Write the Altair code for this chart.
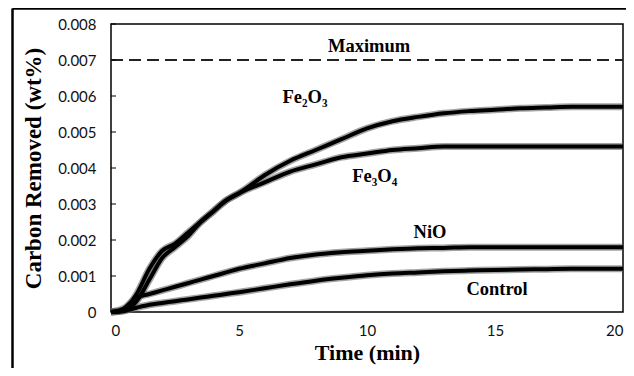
import altair as alt
import pandas as pd

# Time (min)
time = [0, 0.5, 1, 1.5, 2, 2.5, 3, 3.5, 4, 4.5, 5, 6, 7, 8, 9, 10, 11, 12, 13, 14, 15, 16, 17, 18, 19, 20]

fe2o3 = [0, 0.00005, 0.0005, 0.0012, 0.0017, 0.0019, 0.0022, 0.0025, 0.0028, 0.0031, 0.0033,
         0.0038, 0.0042, 0.0045, 0.0048, 0.0051, 0.0053, 0.00542, 0.00552, 0.00558, 0.00562,
         0.00566, 0.00568, 0.0057, 0.0057, 0.0057]
fe3o4 = [0, 0.00003, 0.0003, 0.0009, 0.0015, 0.0018, 0.0021, 0.0025, 0.0028, 0.0031, 0.0033,
         0.0036, 0.0039, 0.0041, 0.0043, 0.0044, 0.0045, 0.00455, 0.0046, 0.0046, 0.0046,
         0.0046, 0.0046, 0.0046, 0.0046, 0.0046]
nio = [0, 0.0001, 0.0004, 0.0005, 0.0006, 0.0007, 0.0008, 0.0009, 0.0010, 0.0011, 0.0012,
       0.00135, 0.0015, 0.0016, 0.00166, 0.0017, 0.00174, 0.00177, 0.00178, 0.0018, 0.0018,
       0.0018, 0.0018, 0.0018, 0.0018, 0.0018]
control = [0, 0.00003, 0.00012, 0.0002, 0.00025, 0.0003, 0.00035, 0.0004, 0.00045, 0.0005, 0.00055,
           0.00066, 0.00077, 0.00087, 0.00095, 0.00102, 0.00107, 0.0011, 0.00113, 0.00115, 0.00117,
           0.00118, 0.00119, 0.0012, 0.0012, 0.0012]

maximum = 0.007
y_ticks = [0, 0.001, 0.002, 0.003, 0.004, 0.005, 0.006, 0.007, 0.008]
x_ticks = [0, 5, 10, 15, 20]

label_text = ["Maximum", "Fe\u2082O\u2083", "Fe\u2083O\u2084", "NiO", "Control"]
label_t = [10.08, 7.58, 10.3, 12.46, 15.08]
label_v = [0.00739, 0.00597, 0.00378, 0.00222, 0.00064]

rows = []
for name, vals in [("Fe2O3", fe2o3), ("Fe3O4", fe3o4), ("NiO", nio), ("Control", control)]:
    for t, v in zip(time, vals):
        rows.append({"series": name, "t": t, "v": v})
df = pd.DataFrame(rows)
labels = pd.DataFrame({"text": label_text, "t": label_t, "v": label_v})

xscale = alt.Scale(domain=[0, 20], nice=False)
yscale = alt.Scale(domain=[0, 0.008], nice=False)

xax = alt.Axis(values=x_ticks, title="Time (min)", grid=False, domain=False,
               ticks=False, labelFont="Lato", labelFontSize=15, labelColor="#111",
               labelOverlap=False, labelPadding=11, titleFont="Liberation Serif",
               titleFontSize=22, titleFontWeight="bold", titleColor="#000", titlePadding=4)
yax = alt.Axis(values=y_ticks, title="Carbon Removed (wt%)", grid=False, domain=False,
               ticks=False, labelFont="Lato", labelFontSize=15, labelColor="#111",
               labelPadding=15, labelOverlap=False,
               labelExpr="datum.value == 0 ? '0' : format(datum.value, '.3f')",
               titleFont="Liberation Serif", titleFontSize=23, titleFontWeight="bold",
               titleColor="#000", titlePadding=12)


def X(field="t"):
    return alt.X(f"{field}:Q", scale=xscale, axis=xax)


def Y(field="v"):
    return alt.Y(f"{field}:Q", scale=yscale, axis=yax)


base = alt.Chart(df)

lines_soft = base.mark_line(strokeWidth=7, color="#666", opacity=0.6, interpolate="monotone").encode(
    x=X(), y=Y(), detail="series:N",
)
lines = base.mark_line(strokeWidth=4, color="#000", interpolate="monotone").encode(
    x=X(), y=Y(), detail="series:N",
)

max_line = alt.Chart(pd.DataFrame({"v": [maximum]})).mark_rule(
    strokeDash=[12, 6], strokeWidth=2, color="#222"
).encode(y=Y(), x=alt.value(0), x2=alt.value(512))

ytick_df = pd.DataFrame({"v": y_ticks})
yticks = alt.Chart(ytick_df).mark_rule(color="#000", strokeWidth=1).encode(
    y=Y(), x=alt.value(0), x2=alt.value(5)
)

text = alt.Chart(labels).mark_text(font="Liberation Serif", fontSize=18.5, fontWeight="bold",
                                   color="#000").encode(
    x=X(), y=Y(), text="text:N"
)

# outer figure border (left and top edges visible)
border_left = alt.Chart(pd.DataFrame({"a": [0]})).mark_rule(color="#000", strokeWidth=2.5).encode(
    x=alt.value(-98.5), y=alt.value(-15.5), y2=alt.value(360)
)
border_top = alt.Chart(pd.DataFrame({"a": [0]})).mark_rule(color="#000", strokeWidth=2.5).encode(
    x=alt.value(-98.5), x2=alt.value(530), y=alt.value(-15.5)
)

chart = alt.layer(lines_soft, lines, max_line, yticks, text, border_left, border_top).properties(
    width=512, height=288,
    autosize=alt.AutoSizeParams(type="none"),
    padding={"left": 103, "top": 16, "right": 3, "bottom": 56},
    background="white",
).configure_view(stroke="#000", strokeWidth=1.5)

chart.save("out.html", embed_options={"renderer": "svg", "actions": False})
